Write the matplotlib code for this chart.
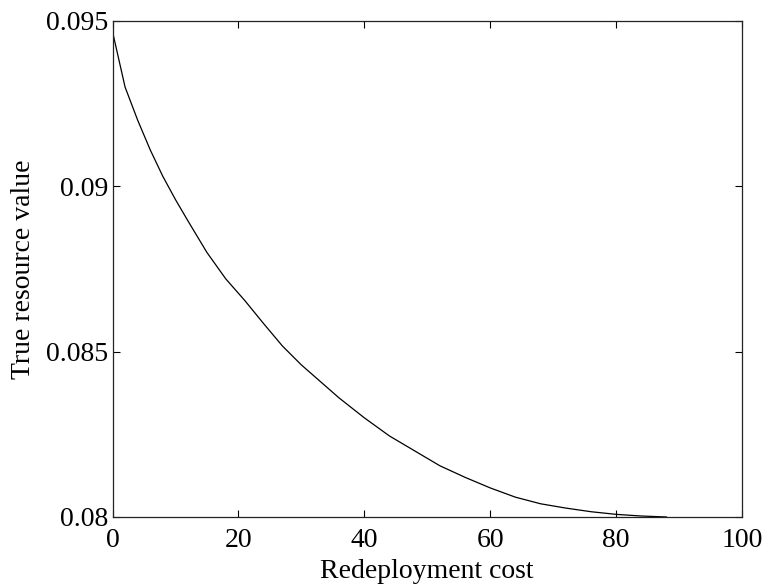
import matplotlib
matplotlib.use("Agg")
import matplotlib.pyplot as plt

# values
cost = [0, 2, 4, 6, 8, 10, 12, 15, 18, 21, 24, 27, 30, 33, 36, 40, 44, 48,
        52, 56, 60, 64, 68, 72, 76, 80, 84, 88]
value = [0.09468, 0.0930, 0.0920, 0.0911, 0.0903, 0.0896, 0.08895, 0.0880,
         0.0872, 0.08655, 0.08585, 0.08517, 0.0846, 0.0841, 0.0836, 0.0830,
         0.08245, 0.0820, 0.08155, 0.0812, 0.08088, 0.0806, 0.0804, 0.08027,
         0.08016, 0.08008, 0.08003, 0.0800]

xticks = [0, 20, 40, 60, 80, 100]
yticks = [0.08, 0.085, 0.09, 0.095]
ylabels = ["0.08", "0.085", "0.09", "0.095"]

plt.rcParams['font.family'] = ['Liberation Serif', 'DejaVu Serif']
plt.rcParams['font.size'] = 20

fig = plt.figure(figsize=(7.65, 5.86), dpi=100)
ax = fig.add_axes([112.5 / 765, 1 - 517 / 586, 629.5 / 765, 496 / 586])

ax.plot(cost, value, color='black', linewidth=0.9)

ax.set_xlim(0, 100)
ax.set_ylim(0.08, 0.095)
ax.set_xticks(xticks)
ax.set_yticks(yticks)
ax.set_yticklabels(ylabels)
ax.tick_params(direction='in', top=True, right=True, length=5, width=0.8)
ax.tick_params(axis='x', pad=8)
ax.tick_params(axis='y', pad=3)
for s in ax.spines.values():
    s.set_linewidth(0.9)
    s.set_color('#222222')

ax.set_xlabel("Redeployment cost", labelpad=4)
ax.set_ylabel("True resource value", labelpad=7)

fig.savefig("out.png", dpi=100)
